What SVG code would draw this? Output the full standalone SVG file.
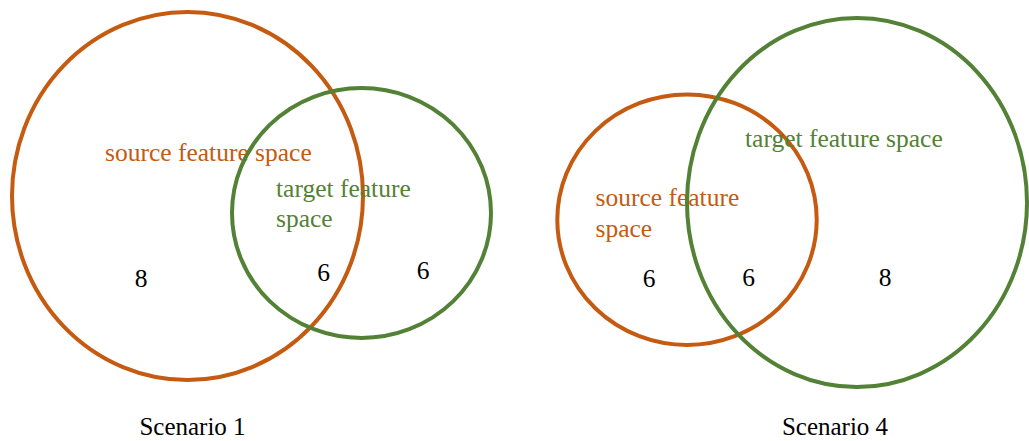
<svg xmlns="http://www.w3.org/2000/svg" width="1029" height="441" viewBox="0 0 1029 441">
  <style>
    .ring { fill: none; stroke-width: 4; }
    .src { stroke: #C55A11; }
    .tgt { stroke: #538135; }
    text { font-family: "Liberation Serif", "Times New Roman", serif; font-size: 25.5px; }
    .lsrc { fill: #C55A11; }
    .ltgt { fill: #538135; }
    .num { fill: #000; text-anchor: middle; }
    .cap { fill: #000; text-anchor: middle; font-size: 25px; }
  </style>
  <rect width="1029" height="441" fill="#fff"/>

  <!-- Scenario 1: large source space overlapping a smaller target space -->
  <g id="s1-source">
    <ellipse class="ring src" cx="187.5" cy="196" rx="175.5" ry="184"/>
    <text class="lsrc" x="105" y="160.5">source feature space</text>
  </g>
  <g id="s1-target">
    <ellipse class="ring tgt" cx="361.5" cy="213" rx="129.5" ry="125"/>
    <text class="ltgt" x="276" y="196.5">target feature</text>
    <text class="ltgt" x="276" y="226.5">space</text>
  </g>
  <g id="s1-counts">
    <text class="num" x="141" y="286.5">8</text>
    <text class="num" x="323.5" y="281">6</text>
    <text class="num" x="423" y="279">6</text>
  </g>
  <text id="s1-caption" class="cap" x="192.5" y="435">Scenario 1</text>

  <!-- Scenario 4: smaller source space overlapping a large target space -->
  <g id="s4-source">
    <ellipse class="ring src" cx="687" cy="219.7" rx="129.7" ry="125.3"/>
    <text class="lsrc" x="595.5" y="206">source feature</text>
    <text class="lsrc" x="595.5" y="236.5">space</text>
  </g>
  <g id="s4-target">
    <ellipse class="ring tgt" cx="857" cy="202.5" rx="170" ry="184.5"/>
    <text class="ltgt" x="745" y="146.5">target feature space</text>
  </g>
  <g id="s4-counts">
    <text class="num" x="649" y="286.5">6</text>
    <text class="num" x="748.5" y="286">6</text>
    <text class="num" x="885" y="286">8</text>
  </g>
  <text id="s4-caption" class="cap" x="835" y="435">Scenario 4</text>
</svg>
